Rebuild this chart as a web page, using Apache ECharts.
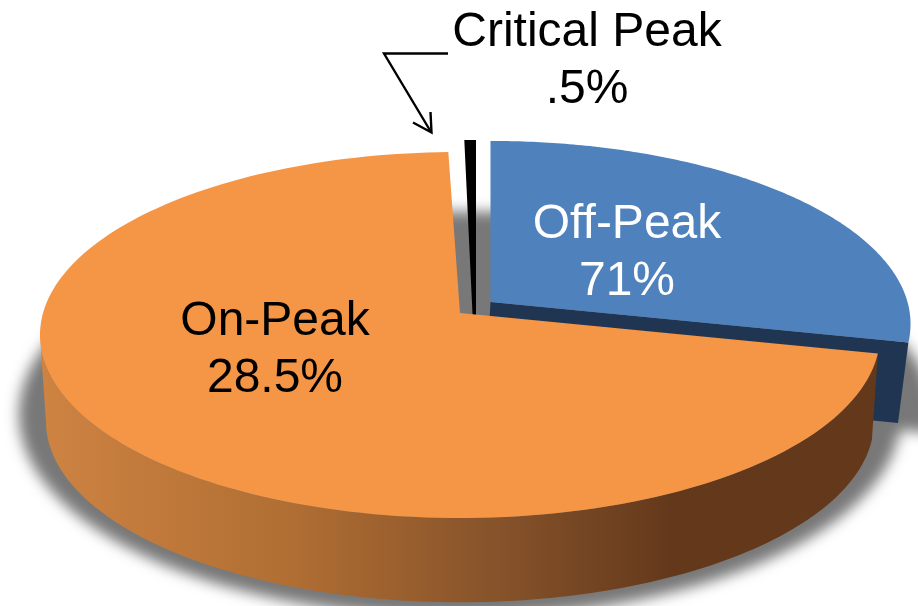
<!DOCTYPE html>
<html>
<head>
<meta charset="utf-8">
<style>html,body{margin:0;padding:0;background:#fff}#c{width:918px;height:606px}</style>
<script src="https://cdn.jsdelivr.net/npm/echarts@6/dist/echarts.min.js"></script>
</head>
<body>
<div id="c"></div>
<script>
// Data
var sliceNames = ['Off-Peak', 'On-Peak', 'Critical Peak'];
var sliceLabels = ['71%', '28.5%', '.5%'];
var sliceShares = [28.5, 71, 0.5];

// Perspective disc and styling
var K = 0.12, STEPS = 160, OFF = 3000;
var TOPS = [
  {x: 490.5, y: 302, a: 417, b: 180.4},
  {x: 460, y: 313, a: 417, b: 180.4},
  {x: 476, y: 301, a: 417, b: 180.4}
];
var ORANGE_BASE = {x: 460, y: 400, a: 411, b: 178};
var SHADOW_DISC = {x: 460 - OFF, y: 390, a: 438, b: 200};
var SHADOW_BLUE = {x: 494 - OFF, y: 390, a: 436, b: 192};
var WALL_GRAD = {type: 'linear', x: 40, y: 0, x2: 880, y2: 0, global: true, colorStops: [
  {offset: 0, color: '#CE8342'}, {offset: 0.3, color: '#B06E33'},
  {offset: 0.55, color: '#85522A'}, {offset: 0.75, color: '#64391B'}, {offset: 1, color: '#64391B'}
]};

var total = sliceShares.reduce(function (a, b) { return a + b; }, 0);
var starts = [], run = 0;
sliceShares.forEach(function (v) { starts.push(run); run += v; });
function ang(p) { return p / total * 2 * Math.PI; }
function P(d, t) {
  var u = Math.sin(t), v = -Math.cos(t), w = 1 - K * v;
  return [d.x + d.a * u / w, d.y + d.b * v / w];
}
function arc(d, t0, t1) {
  var out = [];
  for (var i = 0; i <= STEPS; i++) out.push(P(d, t0 + (t1 - t0) * i / STEPS));
  return out;
}
function poly(points, fill, z2, extra) {
  var style = {fill: fill};
  if (extra) for (var k in extra) style[k] = extra[k];
  return {type: 'polygon', z2: z2, shape: {points: points}, style: style};
}
function text(x, y, str, color) {
  return {type: 'text', z2: 20, x: x, y: y, style: {
    text: str, fill: color, font: '48px "Liberation Sans", Arial, sans-serif',
    lineHeight: 57, align: 'center', verticalAlign: 'middle'
  }};
}
var SHADOW = {shadowBlur: 14, shadowColor: '#787878', shadowOffsetX: OFF};

function renderSlice(params, api) {
  var i = params.dataIndex;
  var v = api.value(0);
  var t0 = ang(starts[i]), t1 = ang(starts[i] + v);
  var kids = [];
  var top = TOPS[i];
  var label = sliceNames[i] + '\n' + sliceLabels[i];
  if (i === 0) {
    var tip = P(top, t1);
    kids.push(poly(arc(SHADOW_BLUE, t0, t1).concat([[SHADOW_BLUE.x, SHADOW_BLUE.y]]), '#787878', 0, SHADOW));
    kids.push(poly([[top.x, top.y], tip, [898, 423], [486, 382]], '#1F3552', 2));
    kids.push(poly([[top.x, top.y]].concat(arc(top, t0, t1)), '#4F81BD', 3));
    kids.push(text(627, 253.5, label, '#FFFFFF'));
  } else if (i === 1) {
    var leftT = 263 / 180 * Math.PI;
    var wall = arc(top, t0, leftT).concat(arc(ORANGE_BASE, t0, leftT).reverse());
    kids.push(poly(arc(SHADOW_DISC, 0, 2 * Math.PI), '#787878', 1, SHADOW));
    kids.push(poly(wall, WALL_GRAD, 5));
    kids.push(poly([[top.x, top.y]].concat(arc(top, t0, t1)), '#F59646', 6));
    kids.push(text(275, 350, label, '#000000'));
  } else {
    kids.push(poly([[476, 388]].concat(arc(top, t0, t1)), '#000000', 4));
    kids.push(text(587, 61.5, label, '#000000'));
    kids.push({type: 'polyline', z2: 20, shape: {points: [[448, 53.5], [384, 53.5], [431, 132]]},
      style: {stroke: '#000', lineWidth: 2.4, fill: null}});
    kids.push({type: 'polyline', z2: 20, shape: {points: [[413, 122.5], [431.5, 132.5], [430.5, 112]]},
      style: {stroke: '#000', lineWidth: 2.4, fill: null}});
  }
  return {type: 'group', children: kids};
}

var chart = echarts.init(document.getElementById('c'), null, {renderer: 'canvas'});
chart.setOption({
  backgroundColor: '#FFFFFF',
  animation: false,
  series: [{
    type: 'custom',
    coordinateSystem: 'none',
    silent: true,
    clip: false,
    data: sliceShares.map(function (v, i) { return {name: sliceNames[i], value: [v]}; }),
    renderItem: renderSlice
  }]
});
</script>
</body>
</html>
